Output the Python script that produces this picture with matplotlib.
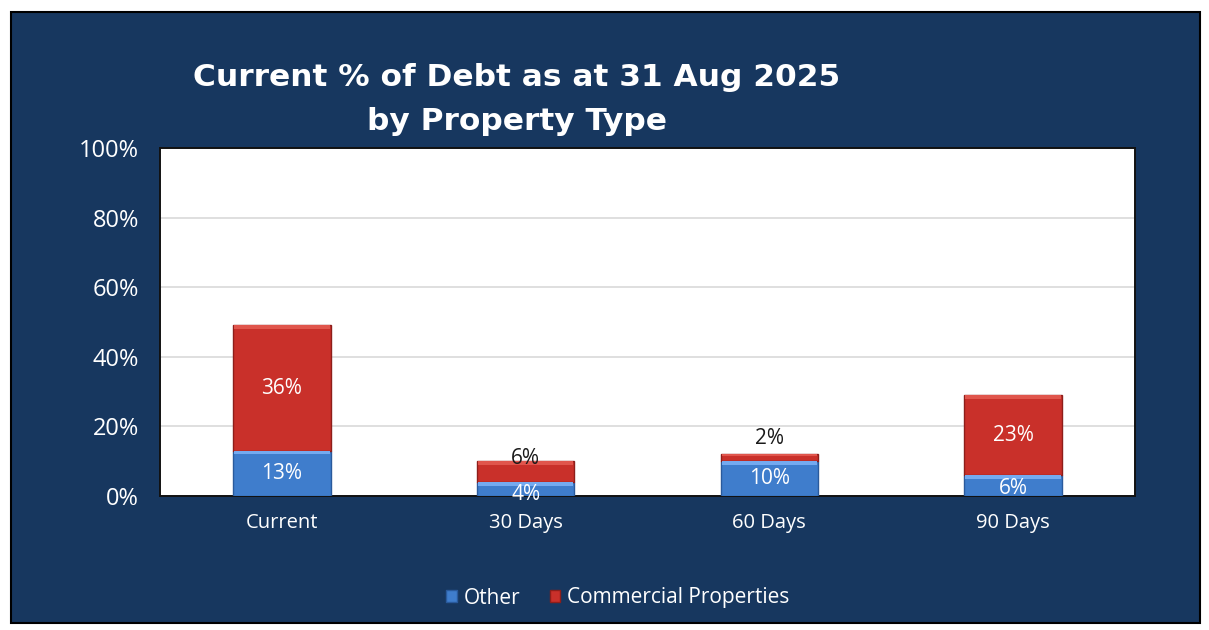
import matplotlib.pyplot as plt
import numpy as np
from matplotlib.patches import Rectangle

# debt ageing split by property type (% of total debt)
categories = ["Current", "30 Days", "60 Days", "90 Days"]
other = [13, 4, 10, 6]
commercial = [36, 6, 2, 23]
y_ticks = [0, 20, 40, 60, 80, 100]

NAVY = "#17375f"
RED = "#c9302a"
RED_EDGE = "#8e1e1a"
BLUE = "#3f7dcc"
BLUE_EDGE = "#2a5a9c"
FONT = "Open Sans"

fig = plt.figure(figsize=(12.09, 6.30), dpi=100)
fig.patch.set_facecolor("white")

# navy panel with thin black frame
fig.patches.append(Rectangle((11 / 1209, 7 / 630), 1189 / 1209, 611 / 630,
                             transform=fig.transFigure, facecolor=NAVY,
                             edgecolor="black", linewidth=1.5, zorder=-1))

ax = fig.add_axes([160 / 1209, 134 / 630, 975 / 1209, 348 / 630])
ax.set_zorder(2)
ax.set_facecolor("white")
for s in ax.spines.values():
    s.set_color("#111111")
    s.set_linewidth(1.4)

x = np.arange(len(categories))
w = 0.40
b1 = ax.bar(x, other, w, color=BLUE, edgecolor=BLUE_EDGE, linewidth=1.0,
            label="Other", zorder=3)
b2 = ax.bar(x, commercial, w, bottom=other, color=RED, edgecolor=RED_EDGE,
            linewidth=1.0, label="Commercial Properties", zorder=3)

# light top highlight on each segment for the bevelled look
for bars, base, hi in ((b1, [0] * 4, "#74aaf0"), (b2, other, "#e0554c")):
    for r, b in zip(bars, base):
        h = r.get_height()
        hh = min(1.0, h * 0.25)
        ax.bar(r.get_x() + w / 2, hh, w * 0.98, bottom=b + h - hh,
               color=hi, linewidth=0, zorder=4)

ax.set_xlim(-0.5, len(categories) - 0.5)
ax.set_ylim(0, 100)
ax.set_yticks(y_ticks)
ax.set_yticklabels([f"{t}%" for t in y_ticks])
ax.set_xticks(x)
ax.set_xticklabels(categories)
ax.tick_params(axis="both", length=0, colors="white")
ax.tick_params(axis="y", pad=15, labelsize=17)
ax.tick_params(axis="x", pad=12, labelsize=14.5)
for lab in ax.get_xticklabels() + ax.get_yticklabels():
    lab.set_fontfamily(FONT)
ax.grid(axis="y", color="#d9d9d9", linewidth=1.2, zorder=0)
ax.set_axisbelow(True)

# value labels; small commercial segments are labelled above the bar in black
other_off = [0, -4, 0, -2]
comm_off = [0, 7, 16, 0]
for i in range(len(categories)):
    ax.annotate(f"{other[i]}%", (x[i], other[i] / 2), xytext=(0, other_off[i]),
                textcoords="offset points", ha="center", va="center",
                color="white", fontsize=15, fontfamily=FONT, zorder=6)
    if comm_off[i]:
        ax.annotate(f"{commercial[i]}%", (x[i], other[i] + commercial[i]),
                    xytext=(0, comm_off[i] - 5), textcoords="offset points",
                    ha="center", va="center", color="#1a1a1a",
                    fontsize=15, fontfamily=FONT, zorder=6)
    else:
        ax.annotate(f"{commercial[i]}%", (x[i], other[i] + commercial[i] / 2),
                    ha="center", va="center", color="white", fontsize=15,
                    fontfamily=FONT, zorder=6)

fig.text(517 / 1209, 1 - 77 / 630, "Current % of Debt as at 31 Aug 2025",
         ha="center", va="center", color="white", fontsize=22.5,
         fontweight="bold", fontfamily="DejaVu Sans")
fig.text(517 / 1209, 1 - 121 / 630, "by Property Type",
         ha="center", va="center", color="white", fontsize=22.5,
         fontweight="bold", fontfamily="DejaVu Sans")

leg = fig.legend(handles=[b1, b2], loc="center", ncol=2,
                 bbox_to_anchor=(618 / 1209, 1 - 598 / 630), frameon=False,
                 prop={"family": FONT, "size": 15}, handlelength=0.5,
                 handleheight=0.5, handletextpad=0.35, columnspacing=1.4)
for t in leg.get_texts():
    t.set_color("white")

fig.savefig("out.png", dpi=100, facecolor=fig.get_facecolor())
